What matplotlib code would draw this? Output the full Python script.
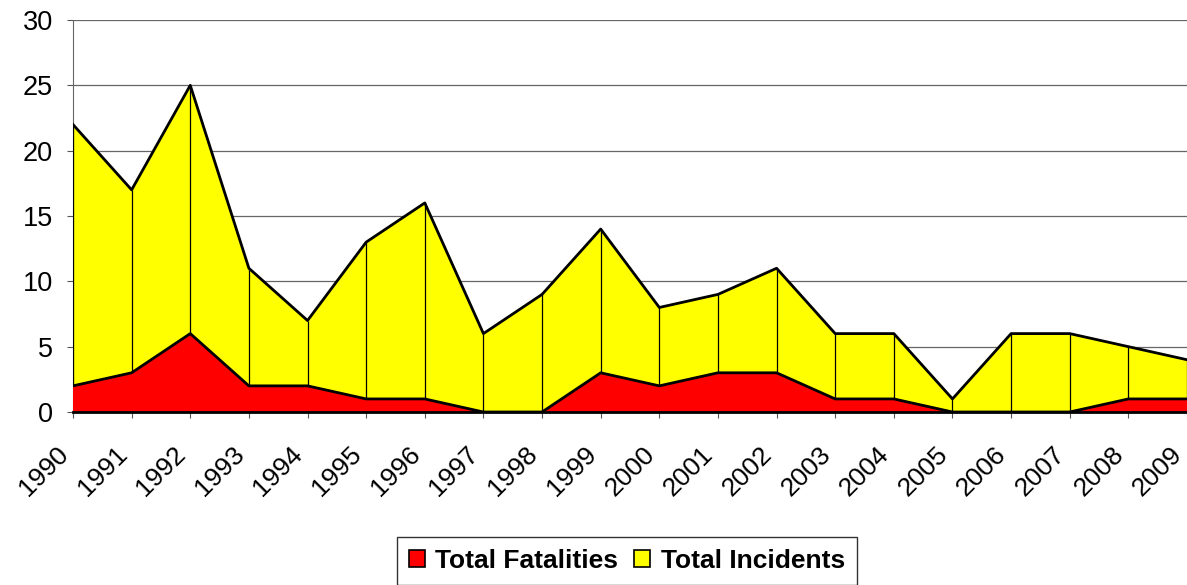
import matplotlib.pyplot as plt
from matplotlib.patches import Patch
from matplotlib.transforms import ScaledTranslation

plt.rcParams['font.family'] = ['Liberation Sans', 'DejaVu Sans']

years = list(range(1990, 2010))
incidents = [22, 17, 25, 11, 7, 13, 16, 6, 9, 14, 8, 9, 11, 6, 6, 1, 6, 6, 5, 4]
fatalities = [2, 3, 6, 2, 2, 1, 1, 0, 0, 3, 2, 3, 3, 1, 1, 0, 0, 0, 1, 1]

fig = plt.figure(figsize=(11.87, 5.85), dpi=100)
ax = fig.add_axes([73 / 1187, 1 - 412 / 585, 1 - 73 / 1187, 392 / 585])

# incidents behind, fatalities in front (overlapping, not stacked)
ax.fill_between(years, incidents, 0, color='#ffff00', edgecolor='none', zorder=2)
ax.plot(years, incidents, color='black', lw=2, zorder=4)
ax.vlines(years, 0, incidents, color='black', lw=0.9, zorder=3)
ax.fill_between(years, fatalities, 0, color='#ff0000', edgecolor='none', zorder=3.5)
ax.plot(years, fatalities, color='black', lw=2, zorder=4)

ax.set_xlim(1990, 2009)
ax.set_ylim(0, 30)
ax.set_yticks(range(0, 31, 5))
ax.set_xticks(years)
ax.set_xticklabels([str(y) for y in years], rotation=45, ha='right', va='top',
                   fontsize=19)
shift = ScaledTranslation(-12 / 100, 0, fig.dpi_scale_trans)
for lab in ax.get_xticklabels():
    lab.set_transform(lab.get_transform() + shift)
ax.tick_params(axis='y', labelsize=19.5, length=4.5, color='#555555', pad=10)
ax.tick_params(axis='x', length=4.5, color='#555555', pad=17)
ax.yaxis.grid(True, color='#666666', lw=0.9, zorder=1)
ax.set_axisbelow(True)
for s in ['top', 'right']:
    ax.spines[s].set_visible(False)
ax.spines['left'].set_color('#666666')
ax.spines['bottom'].set_color('black')
ax.spines['bottom'].set_linewidth(2)
ax.spines['bottom'].set_zorder(5)

handles = [Patch(facecolor='#ff0000', edgecolor='black', lw=1.2, label='Total Fatalities'),
           Patch(facecolor='#ffff00', edgecolor='black', lw=1.2, label='Total Incidents')]
leg = fig.legend(handles=handles, loc='upper center', bbox_to_anchor=(627 / 1187, 1 - 537 / 585),
                 ncol=2, frameon=True, fancybox=False, handlelength=0.6, handleheight=0.6,
                 handletextpad=0.4, columnspacing=0.6, borderpad=0.45, borderaxespad=0,
                 prop={'weight': 'bold', 'size': 19})
leg.get_frame().set_edgecolor('black')
leg.get_frame().set_linewidth(1)

plt.savefig('out.png', dpi=100)
